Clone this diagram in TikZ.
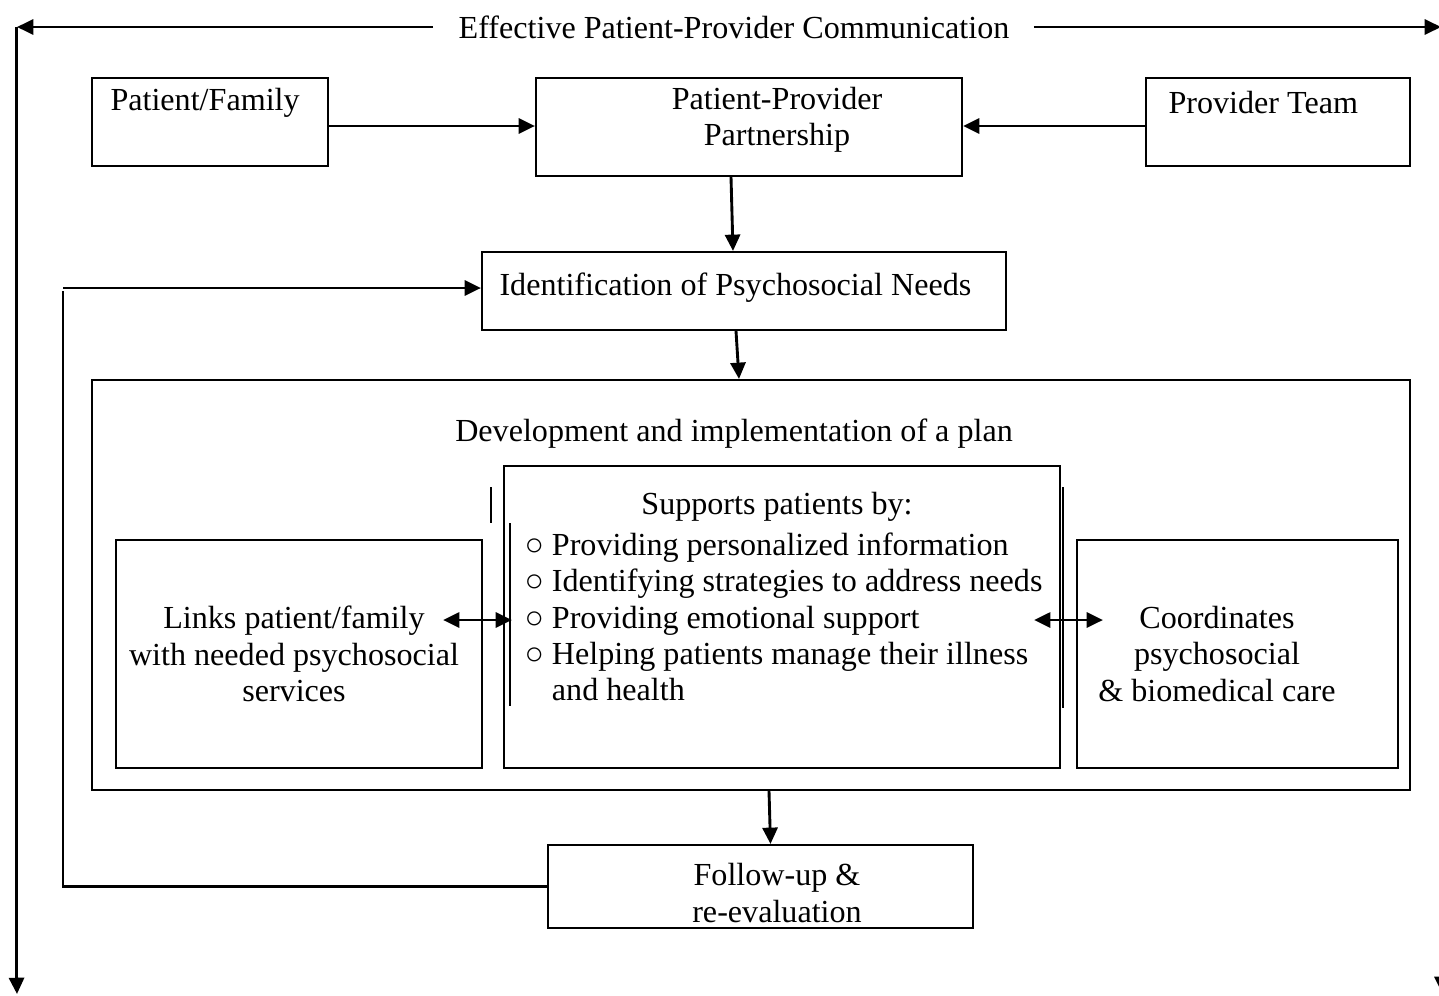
\documentclass[tikz,border=0pt]{standalone}
\usepackage{fontspec}
\setmainfont{Liberation Serif}
\usetikzlibrary{arrows.meta,positioning,fit,calc}

\begin{document}
\begin{tikzpicture}[x=0.014cm, y=-0.014cm, every node/.style={font=\fontsize{12.8}{14.5}\selectfont, inner sep=0pt}]
        \tikzset{
            box/.style={draw, line width=0.85pt, inner sep=0pt, fit={#1}},
            arr/.style={line width=1.15pt, -{Triangle[length=6.5pt, width=6pt]}},
            dblarr/.style={line width=1.15pt, {Triangle[length=6.5pt, width=6pt]}-{Triangle[length=6.5pt, width=6pt]}},
            txt/.style={align=center}
        }
        \useasboundingbox (0,0) rectangle (1439,995);

        % Outer frame: communication arrows
        \node (comm) at (734,27) {Effective Patient-Provider Communication};
        \coordinate (tl) at (17,27);
        \coordinate (bl) at (17,994);
        \coordinate (tr) at (1441,27);
        \coordinate (br) at (1442,993);
        \draw[arr] ($(comm.west)+(-25,0)$) -- (tl);
        \draw[line width=1.15pt] (16.5,27) -- (16.5,980);
        \draw[arr] (16.5,975) -- (bl);
        \draw[arr] ($(comm.east)+(24,0)$) -- (tr);
        \draw[arr] (1442,27) -- (br);

        % Top row
        \node[box={(92,78) (328,166)}] (pf) {};
        \node[anchor=west] (pftxt) at (110,103) {Patient/Family};
        \node[box={(536,78) (962,176)}] (ppp) {};
        \node[txt] (ppptxt) at (777,120) {Patient-Provider\\Partnership};
        \node[box={(1146,78) (1410,166)}] (pt) {};
        \node[anchor=west] (pttxt) at (1168,103) {Provider Team};

        \draw[arr] ($(pf.east)+(0,4)$) -- ($(ppp.west)+(0,-1)$);
        \draw[arr] ($(pt.west)+(0,4)$) -- ($(ppp.east)+(0,-1)$);

        % Identification
        \node[box={(482,252) (1006,330)}] (id) {};
        \node[anchor=west] (idtxt) at (499,288) {Identification of Psychosocial Needs};
        \draw[arr] ($(ppp.south)+(-18,0)$) -- ($(id.north)+(-11,0)$);

        % Plan
        \node[box={(92,380) (1410,790)}] (plan) {};
        \node (plantxt) at (734,434) {Development and implementation of a plan};
        \draw[arr] ($(id.south)+(-8,0)$) -- ($(plan.north)+(-12,0)$);

        \node[box={(504,466) (1060,768)}] (sup) {};
        \node (suptitle) at (777,507) {Supports patients by:};
        \node[anchor=west, align=left] (suplist) at (524,617) {○ Providing personalized information\\○ Identifying strategies to address needs\\○ Providing emotional support\\○ Helping patients manage their illness\\\phantom{○ }and health};

        \node[box={(116,540) (482,768)}] (links) {};
        \node[txt] (linkstxt) at (294,654) {Links patient/family\\with needed psychosocial\\services};
        \node[box={(1077,540) (1398,768)}] (coord) {};
        \node[txt] (coordtxt) at (1217,654) {Coordinates\\psychosocial\\\& biomedical care};

        \draw[line width=0.5pt] (491,487) -- (491,523);
        \draw[line width=1pt] (510,523) -- (510,706);
        \draw[line width=0.5pt] (1063,487) -- (1063,708);

        \coordinate (ay) at (0,620);
        \draw[dblarr] ($(links.east |- ay)+(-40,0)$) -- ($(sup.west |- ay)+(9,0)$);
        \draw[dblarr] ($(sup.east |- ay)+(-27,0)$) -- ($(coord.west |- ay)+(27,0)$);

        % Follow-up and loop back
        \node[box={(548,845) (973,928)}] (fu) {};
        \node[txt] (futxt) at (777,893) {Follow-up \&\\re-evaluation};
        \draw[arr] ($(plan.south)+(18,0)$) -- ($(fu.north)+(10,0)$);
        \coordinate (loop) at (63,0);
        \draw[line width=0.85pt] (fu.west) -| (loop |- id.west);
        \draw[arr] ($(loop |- id.west)+(0,-3)$) -- ($(id.west)+(0,-3)$);
\end{tikzpicture}
\end{document}
